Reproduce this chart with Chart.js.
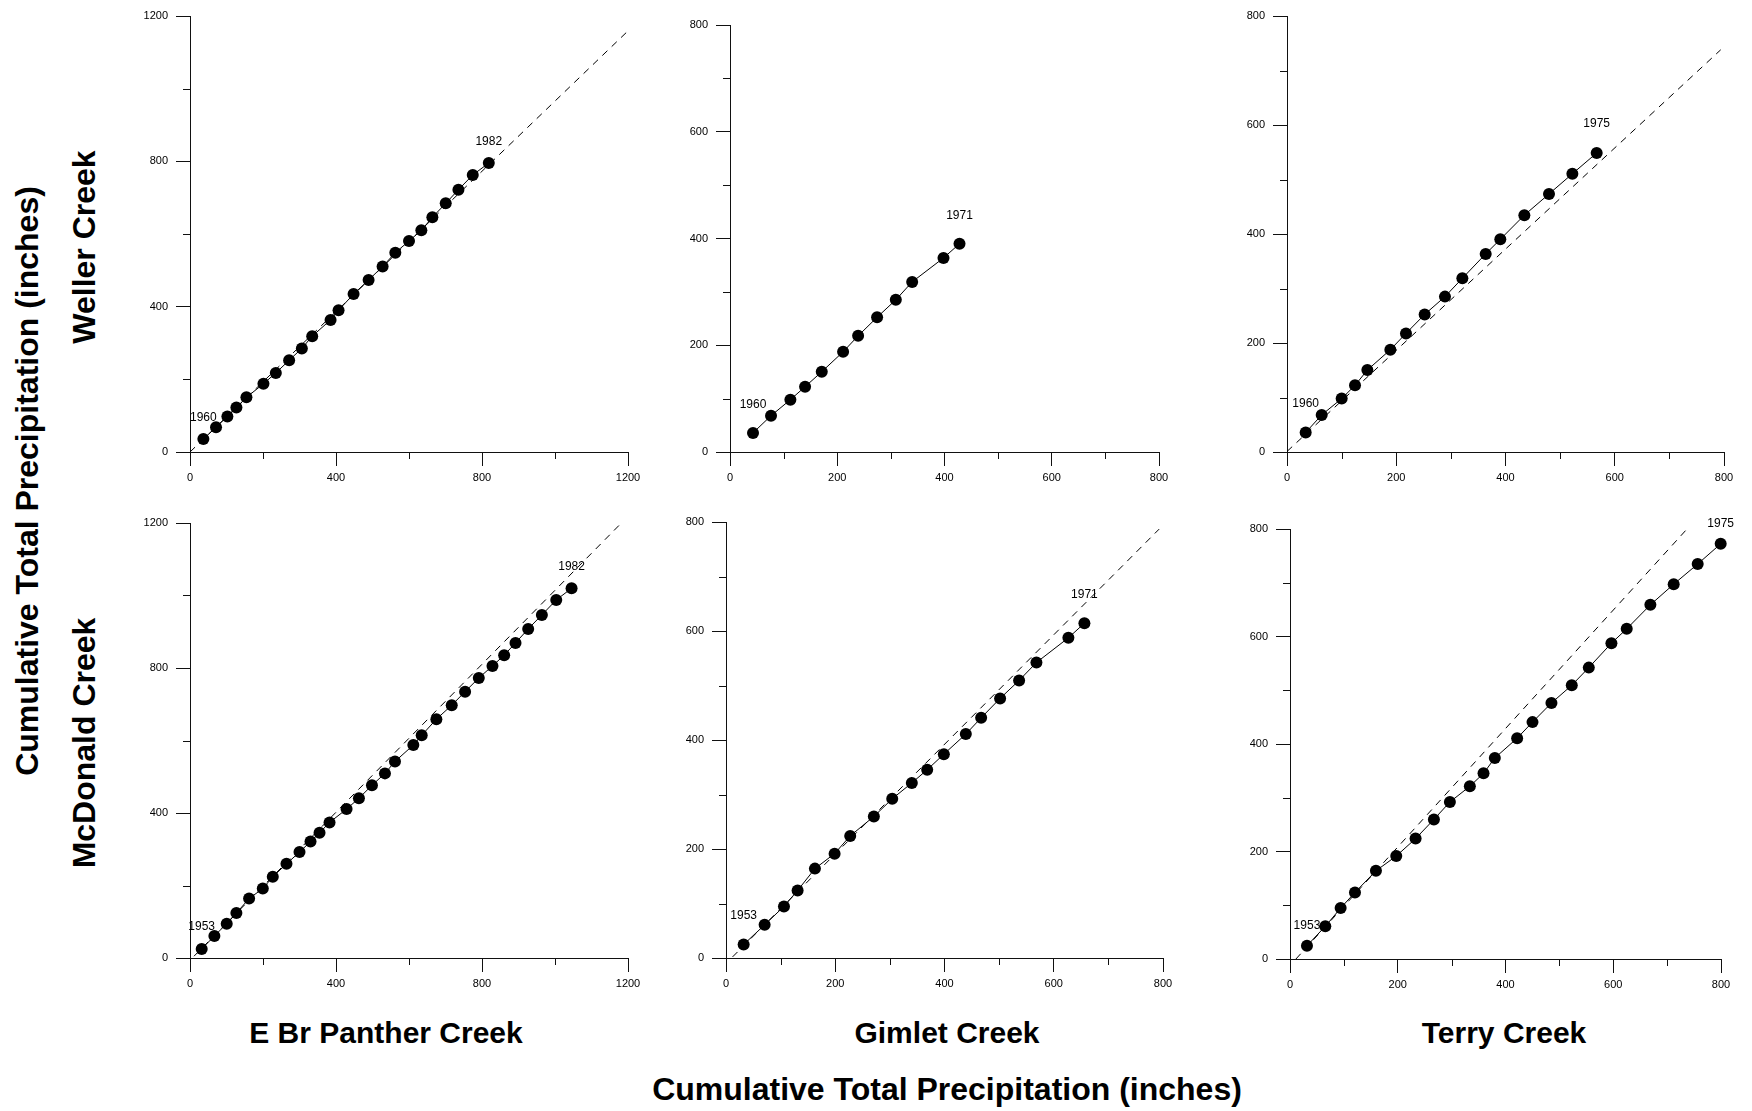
<!DOCTYPE html>
<html lang="en">

<head>
    <meta charset="UTF-8">
    <title>Double-mass curves: cumulative total precipitation</title>
    <script src="https://cdn.jsdelivr.net/npm/chart.js"></script>
    <style>
        body {
            margin: 0;
            background: #fff;
            font-family: Arial, "Liberation Sans", sans-serif;
        }

        #stage {
            position: relative;
            width: 1752px;
            height: 1111px;
            overflow: hidden;
        }

        #stage canvas {
            position: absolute;
        }

        .label {
            position: absolute;
            font-weight: bold;
            color: #000;
            white-space: nowrap;
            line-height: 1;
            transform: translate(-50%, -50%);
        }

        .label.vertical {
            transform: translate(-50%, -50%) rotate(-90deg);
        }
    </style>
</head>

<body>
    <div id="stage">
        <div class="label vertical" style="left:27px;top:481px;font-size:32px">Cumulative Total Precipitation (inches)</div>
        <div class="label vertical" style="left:84px;top:247px;font-size:32px">Weller Creek</div>
        <div class="label vertical" style="left:84px;top:743px;font-size:32px">McDonald Creek</div>
        <div class="label" style="left:386px;top:1033px;font-size:30px">E Br Panther Creek</div>
        <div class="label" style="left:947px;top:1033px;font-size:30px">Gimlet Creek</div>
        <div class="label" style="left:1504px;top:1033px;font-size:30px">Terry Creek</div>
        <div class="label" style="left:947px;top:1089px;font-size:32px">Cumulative Total Precipitation (inches)</div>
    </div>

    <script>
        // y series: cumulative precipitation at the index stations
        const wellerCreek = [35.8, 68.0, 98.0, 122.3, 150.4, 187.7, 217.6, 252.4, 285.1, 318.7, 363.5, 390.2,
            434.6, 473.4, 510.5, 548.6, 580.7, 610.1, 645.9, 684.4, 722.0, 762.4, 795.4]; // 1960-1982
        const mcdonaldCreek = [24.7, 60.8, 94.7, 123.9, 164.0, 191.5, 224.0, 259.7, 292.1, 321.3, 345.4, 374.0,
            410.8, 440.7, 476.3, 509.3, 542.1, 587.5, 614.3, 658.9, 697.3, 734.8, 772.4, 805.8, 835.2, 869.2,
            907.8, 946.4, 987.7, 1019.9]; // 1953-1982

        // x series: cumulative precipitation at the compared stations
        const pantherVsWeller = [36.6, 71.3, 102.4, 127.1, 154.6, 201.2, 235.1, 271.6, 306.4, 334.8, 385.1, 407.0,
            448.2, 489.3, 527.7, 562.5, 600.0, 633.8, 664.0, 700.6, 735.4, 774.7, 818.6];
        const gimletVsWeller = [42.9, 76.5, 112.6, 140.0, 171.1, 210.9, 238.9, 274.3, 309.2, 339.7, 398.1, 428.0];
        const terryVsWeller = [34.2, 63.5, 100.1, 124.5, 147.1, 189.2, 217.8, 252.0, 289.2, 321.0, 363.7, 390.5,
            434.5, 479.6, 522.4, 566.9];
        const pantherVsMcdonald = [32.0, 66.8, 100.6, 127.1, 161.9, 199.4, 226.8, 264.3, 300.0, 330.2, 354.9, 382.3,
            429.0, 462.8, 498.5, 534.1, 561.6, 611.9, 634.8, 675.0, 717.1, 753.7, 791.2, 828.7, 860.7, 891.8,
            926.5, 964.0, 1003.4, 1045.4];
        const gimletVsMcdonald = [32.3, 70.7, 106.1, 131.1, 162.8, 198.8, 227.4, 270.7, 304.3, 340.2, 368.3, 398.8,
            439.0, 467.1, 501.8, 536.6, 568.3, 626.8, 656.1];
        const terryVsMcdonald = [31.5, 65.5, 94.0, 120.6, 159.5, 197.2, 233.1, 267.1, 296.8, 333.8, 359.2, 380.2,
            421.6, 450.1, 485.3, 523.0, 554.6, 596.6, 625.0, 668.9, 712.2, 756.7, 799.4];

        // first / last year of each record
        const pantherWellerYears = ["1960", "1982"];
        const gimletWellerYears = ["1960", "1971"];
        const terryWellerYears = ["1960", "1975"];
        const pantherMcdonaldYears = ["1953", "1982"];
        const gimletMcdonaldYears = ["1953", "1971"];
        const terryMcdonaldYears = ["1953", "1975"];

        // dashed reference lines (end points)
        const fitPantherWellerX = [0, 1200], fitPantherWellerY = [0, 1159];
        const fitTerryWellerX = [0, 794], fitTerryWellerY = [1, 738];
        const fitPantherMcdonaldX = [11, 1176], fitPantherMcdonaldY = [5, 1194];
        const fitGimletMcdonaldX = [12, 793], fitGimletMcdonaldY = [2, 787];
        const fitTerryMcdonaldX = [11, 736], fitTerryMcdonaldY = [0, 799];

        // tick labels
        const ticks1200 = [0, 400, 800, 1200];
        const minor1200 = [0, 200, 400, 600, 800, 1000, 1200];
        const ticks800 = [0, 200, 400, 600, 800];
        const minor800 = [0, 100, 200, 300, 400, 500, 600, 700, 800];

        const PAD_L = 60, PAD_T = 20, PAD_R = 25, PAD_B = 40;
        const FONT = "Arial, 'Liberation Sans', sans-serif";
        const INK = '#111';

        const panels = [
            { left: 190, top: 16, w: 438, h: 436, max: 1200, major: ticks1200, minor: minor1200,
              x: pantherVsWeller, y: wellerCreek, years: pantherWellerYears, fitX: fitPantherWellerX, fitY: fitPantherWellerY, yearOffset: 21 },
            { left: 730, top: 25, w: 429, h: 427, max: 800, major: ticks800, minor: minor800,
              x: gimletVsWeller, y: wellerCreek, years: gimletWellerYears, fitX: null, fitY: null, yearOffset: 28 },
            { left: 1287, top: 16, w: 437, h: 436, max: 800, major: ticks800, minor: minor800,
              x: terryVsWeller, y: wellerCreek, years: terryWellerYears, fitX: fitTerryWellerX, fitY: fitTerryWellerY, yearOffset: 29 },
            { left: 190, top: 523, w: 438, h: 435, max: 1200, major: ticks1200, minor: minor1200,
              x: pantherVsMcdonald, y: mcdonaldCreek, years: pantherMcdonaldYears, fitX: fitPantherMcdonaldX, fitY: fitPantherMcdonaldY, yearOffset: 22 },
            { left: 726, top: 522, w: 437, h: 436, max: 800, major: ticks800, minor: minor800,
              x: gimletVsMcdonald, y: mcdonaldCreek, years: gimletMcdonaldYears, fitX: fitGimletMcdonaldX, fitY: fitGimletMcdonaldY, yearOffset: 29 },
            { left: 1290, top: 529, w: 431, h: 430, max: 800, major: ticks800, minor: minor800,
              x: terryVsMcdonald, y: mcdonaldCreek, years: terryMcdonaldYears, fitX: fitTerryMcdonaldX, fitY: fitTerryMcdonaldY, yearOffset: 20 },
        ];

        // short tick marks between the labelled ones
        const minorTicks = {
            id: 'minorTicks',
            afterDraw(chart, args, opts) {
                const { ctx, chartArea, scales } = chart;
                ctx.save();
                ctx.strokeStyle = INK;
                ctx.lineWidth = 1;
                ctx.beginPath();
                opts.values.forEach(v => {
                    if (opts.major.includes(v)) return;
                    const px = Math.round(scales.x.getPixelForValue(v)) + 0.5;
                    ctx.moveTo(px, chartArea.bottom);
                    ctx.lineTo(px, chartArea.bottom + 7);
                    const py = Math.round(scales.y.getPixelForValue(v)) + 0.5;
                    ctx.moveTo(chartArea.left - 7, py);
                    ctx.lineTo(chartArea.left, py);
                });
                ctx.stroke();
                ctx.restore();
            }
        };

        // start and end year above the first and last point
        const yearLabels = {
            id: 'yearLabels',
            afterDatasetsDraw(chart, args, opts) {
                const pts = chart.getDatasetMeta(0).data;
                const ends = [pts[0], pts[pts.length - 1]];
                const ctx = chart.ctx;
                ctx.save();
                ctx.fillStyle = '#000';
                ctx.font = `12px ${FONT}`;
                ctx.textAlign = 'center';
                ctx.textBaseline = 'middle';
                ends.forEach((p, i) => ctx.fillText(opts.labels[i], p.x, p.y - opts.offset));
                ctx.restore();
            }
        };

        function axis(p, isX) {
            return {
                type: 'linear',
                min: 0,
                max: p.max,
                afterBuildTicks: s => { s.ticks = p.major.map(v => ({ value: v })); },
                afterFit: s => { if (isX) s.height = PAD_B; else s.width = PAD_L; },
                grid: { drawOnChartArea: false, drawTicks: true, tickLength: 14, color: INK, lineWidth: 1 },
                border: { display: true, color: INK, width: 1 },
                ticks: {
                    color: '#000',
                    font: { family: FONT, size: 11 },
                    padding: isX ? 5 : 8,
                    maxRotation: 0,
                    autoSkip: false,
                    callback: v => String(v)
                }
            };
        }

        const stage = document.getElementById('stage');

        panels.forEach(p => {
            const canvas = document.createElement('canvas');
            canvas.width = p.w + PAD_L + PAD_R;
            canvas.height = p.h + PAD_T + PAD_B;
            canvas.style.left = (p.left - PAD_L) + 'px';
            canvas.style.top = (p.top - PAD_T) + 'px';
            stage.appendChild(canvas);

            const datasets = [{
                data: p.x.map((x, i) => ({ x: x, y: p.y[i] })),
                showLine: true,
                borderColor: '#000',
                borderWidth: 1,
                pointRadius: 6,
                pointBackgroundColor: '#000',
                pointBorderWidth: 0,
                clip: false
            }];
            if (p.fitX) {
                datasets.push({
                    data: p.fitX.map((x, i) => ({ x: x, y: p.fitY[i] })),
                    showLine: true,
                    borderColor: '#000',
                    borderWidth: 1,
                    borderDash: [7, 6],
                    pointRadius: 0,
                    clip: false
                });
            }

            new Chart(canvas, {
                type: 'scatter',
                data: { datasets: datasets },
                options: {
                    responsive: false,
                    animation: false,
                    events: [],
                    layout: { padding: { top: PAD_T, right: PAD_R, left: 0, bottom: 0 } },
                    plugins: {
                        legend: { display: false },
                        tooltip: { enabled: false },
                        minorTicks: { values: p.minor, major: p.major },
                        yearLabels: { labels: p.years, offset: p.yearOffset }
                    },
                    scales: { x: axis(p, true), y: axis(p, false) }
                },
                plugins: [minorTicks, yearLabels]
            });
        });
    </script>
</body>

</html>
